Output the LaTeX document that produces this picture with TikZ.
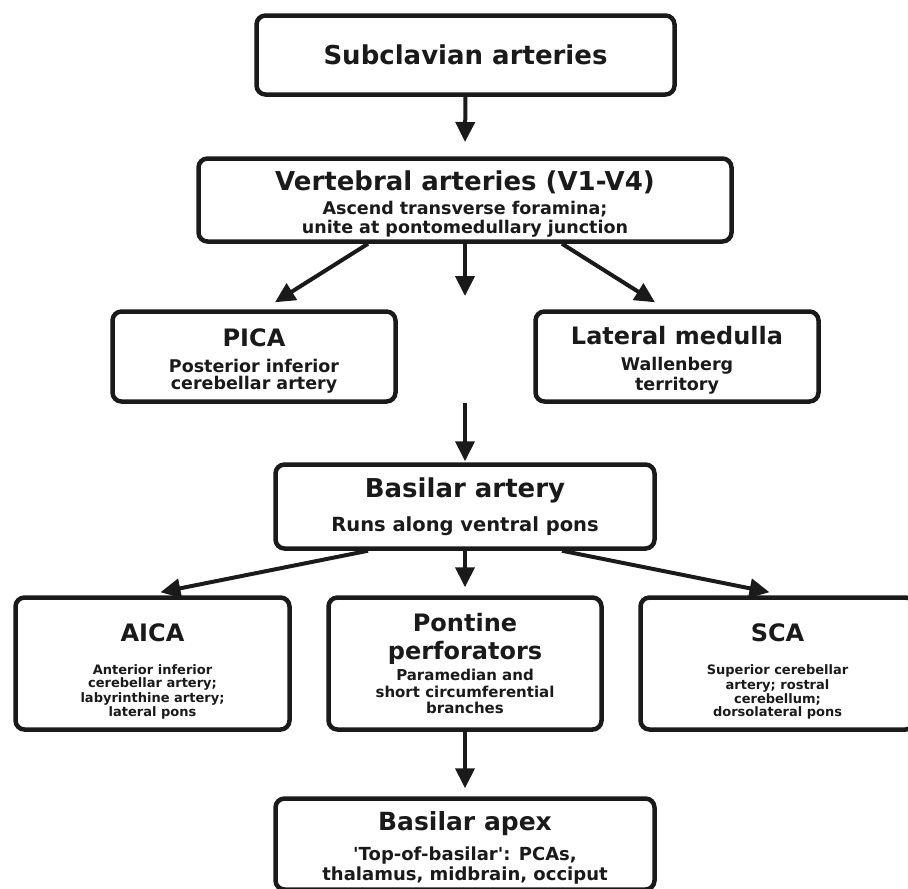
\documentclass[tikz,border=0pt]{standalone}
\usepackage{fontspec}
\setmainfont{DejaVu Sans}
\usetikzlibrary{arrows.meta,calc}
\definecolor{inkcolor}{RGB}{26,26,26}
\newcommand{\headbig}{\fontsize{26}{30}\selectfont}
\newcommand{\headmid}{\fontsize{24}{28}\selectfont}
\newcommand{\subbig}{\fontsize{17.5}{20}\selectfont}
\newcommand{\submid}{\fontsize{15}{17}\selectfont}
\newcommand{\subsmall}{\fontsize{13}{14}\selectfont}

\begin{document}
\begin{tikzpicture}[x=1pt,y=-1pt]
	\tikzstyle{stage} = [draw=inkcolor, line width=4.5pt, rounded corners=9pt, align=center, text=inkcolor, font=\bfseries, inner sep=0pt]
	\tikzstyle{flow} = [-{Triangle[length=20pt,width=19pt]}, inkcolor, line width=4pt]

	\useasboundingbox (0,0) rectangle (908,889);

	\node[stage, minimum width=418pt, minimum height=79pt] (subcl) at (465.5,55)
		{\headbig Subclavian arteries};
	\node[stage, minimum width=533pt, minimum height=83pt] (vert) at (465,200)
		{\rule{0pt}{28pt}\headbig Vertebral arteries (V1-V4)\\[6pt]
		 \subbig Ascend transverse foramina;\\[3pt] \subbig unite at pontomedullary junction};
	\node[stage, minimum width=283pt, minimum height=90pt] (pica) at (254,356.5)
		{\rule{0pt}{26pt}\headmid PICA\\[12pt]
		 \subbig Posterior inferior\\[2pt] \subbig cerebellar artery};
	\node[stage, minimum width=283pt, minimum height=90pt] (latmed) at (677,356.5)
		{\rule{0pt}{26pt}\headmid Lateral medulla\\[12pt]
		 \subbig Wallenberg\\[2pt] \subbig territory};
	\node[stage, minimum width=379pt, minimum height=84pt] (basil) at (465,506.5)
		{\headbig Basilar artery\\[13pt]
		 \fontsize{19.5}{22}\selectfont Runs along ventral pons};
	\node[stage, minimum width=274pt, minimum height=132pt] (aica) at (152.5,663.5)
		{\rule{0pt}{34pt}\headmid AICA\\[21pt]
		 \subsmall Anterior inferior\\[1pt] \subsmall cerebellar artery;\\[1pt] \subsmall labyrinthine artery;\\[1pt] \subsmall lateral pons};
	\node[stage, minimum width=273pt, minimum height=132pt] (pontine) at (465,663.5)
		{\headmid Pontine\\[8pt] \headmid perforators\\[4pt]
		 \submid Paramedian and\\[4.5pt] \submid short circumferential\\[4.5pt] \submid branches};
	\node[stage, minimum width=274pt, minimum height=132pt] (sca) at (777.5,663.5)
		{\rule{0pt}{34pt}\headmid SCA\\[21pt]
		 \subsmall Superior cerebellar\\[1pt] \subsmall artery; rostral\\[1pt] \subsmall cerebellum;\\[1pt] \subsmall dorsolateral pons};
	\node[stage, minimum width=379pt, minimum height=91pt] (apex) at (465,844)
		{\rule{0pt}{27pt}\fontsize{25}{29}\selectfont Basilar apex\\[10pt]
		 \fontsize{18}{20}\selectfont \textquotesingle Top-of-basilar\textquotesingle: PCAs,\\[2pt]
		 \fontsize{18}{20}\selectfont thalamus, midbrain, occiput};

	% free ends of the middle arrows
	\coordinate (vertend) at (465,296);
	\coordinate (basstart) at (465,403);

	\draw[flow] (subcl.south) -- (465,142);
	\draw[flow] (vert.south) -- (vertend);
	\draw[flow] ($(vert.south)+(-97,0)$) -- ($(pica.north)+(21,-7)$);
	\draw[flow] ($(vert.south)+(97,0)$) -- ($(latmed.north)+(-22,-7)$);
	\draw[flow] (basstart) -- ($(basil.north)+(0,-1)$);
	\draw[flow] ($(basil.south)+(-97,0)$) -- ($(aica.north)+(8,-3)$);
	\draw[flow] (basil.south) -- ($(pontine.north)+(0,-8)$);
	\draw[flow] ($(basil.south)+(97,0)$) -- ($(sca.north)+(-8,-3)$);
	\draw[flow] (pontine.south) -- ($(apex.north)+(0,-8)$);
\end{tikzpicture}
\end{document}
